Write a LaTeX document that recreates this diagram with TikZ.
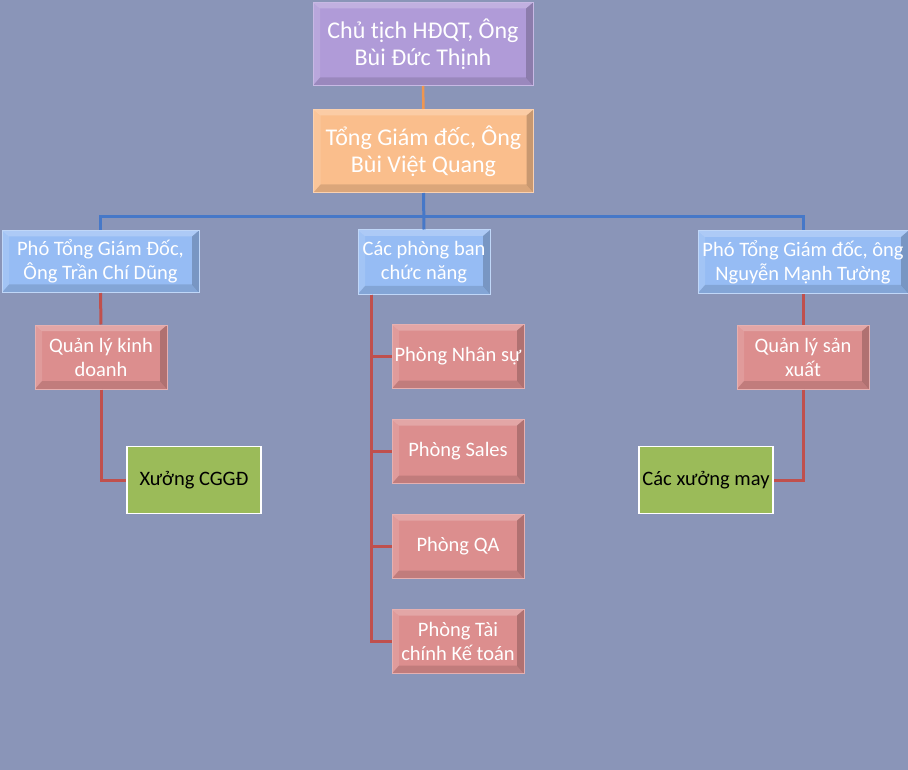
\documentclass[tikz,border=0pt]{standalone}
\usepackage{fontspec}
\setmainfont{Carlito}
\definecolor{bg}{RGB}{138,149,184}
\definecolor{purplebox}{RGB}{176,155,216}
\definecolor{orangebox}{RGB}{250,190,140}
\definecolor{bluebox}{RGB}{150,188,244}
\definecolor{redbox}{RGB}{220,142,142}
\definecolor{greenbox}{RGB}{155,187,89}
\definecolor{redline}{RGB}{192,80,77}
\definecolor{blueline}{RGB}{70,120,200}
\definecolor{orangeline}{RGB}{240,150,80}
\tikzset{
  bevel/.style={path picture={
    \fill[white,opacity=.22] (path picture bounding box.north west) -- (path picture bounding box.north east)
      -- ([shift={(-7pt,-6pt)}]path picture bounding box.north east) -- ([shift={(7pt,-6pt)}]path picture bounding box.north west) -- cycle;
    \fill[white,opacity=.12] (path picture bounding box.north west) -- (path picture bounding box.south west)
      -- ([shift={(7pt,8pt)}]path picture bounding box.south west) -- ([shift={(7pt,-6pt)}]path picture bounding box.north west) -- cycle;
    \fill[black,opacity=.12] (path picture bounding box.south west) -- (path picture bounding box.south east)
      -- ([shift={(-7pt,8pt)}]path picture bounding box.south east) -- ([shift={(7pt,8pt)}]path picture bounding box.south west) -- cycle;
    \fill[black,opacity=.2] (path picture bounding box.north east) -- (path picture bounding box.south east)
      -- ([shift={(-7pt,8pt)}]path picture bounding box.south east) -- ([shift={(-7pt,-6pt)}]path picture bounding box.north east) -- cycle;
  }},
  box/.style={rectangle, bevel, inner sep=0pt, align=center, text=white, font=\fontsize{20.5}{24}\selectfont, line width=1pt},
  topbox/.style={box, font=\fontsize{24}{27}\selectfont, minimum width=220pt, minimum height=83pt},
  purplenode/.style={topbox, fill=purplebox, draw=purplebox!70!white},
  orangenode/.style={topbox, fill=orangebox, draw=orangebox!70!white},
  bluenode/.style={box, fill=bluebox, draw=bluebox!60!white, minimum height=62pt},
  rednode/.style={box, fill=redbox, draw=redbox!70!white, minimum width=132pt, minimum height=64pt},
  greennode/.style={rectangle, inner sep=0pt, align=center, fill=greenbox, draw=white, line width=1.2pt,
    minimum width=134pt, minimum height=67pt, font=\fontsize{20.5}{24}\selectfont, text=black},
  redconn/.style={draw=redline, line width=3pt},
  blueconn/.style={draw=blueline, line width=3pt},
  orangeconn/.style={draw=orangeline, line width=2.5pt},
}
\begin{document}
\begin{tikzpicture}[x=1pt,y=-1pt]
\fill[bg] (0,0) rectangle (908,770);
\useasboundingbox (0,0) rectangle (908,770);

\node[purplenode] (chu) at (423,44) {Chủ tịch HĐQT, Ông\\Bùi Đức Thịnh};
\node[orangenode] (tgd) at (423.5,151) {Tổng Giám đốc, Ông\\Bùi Việt Quang};
\node[bluenode, minimum width=197pt] (pl) at (100.5,261.5) {Phó Tổng Giám Đốc,\\Ông Trần Chí Dũng};
\node[bluenode, minimum width=132pt, minimum height=64pt] (cpb) at (424,262) {Các phòng ban\\chức năng};
\node[bluenode, minimum width=210pt] (pr) at (803,262) {Phó Tổng Giám đốc, ông\\Nguyễn Mạnh Tường};
\node[rednode] (qlkd) at (101,357) {Quản lý kinh\\doanh};
\node[greennode] (xcggd) at (194,480) {Xưởng CGGĐ};
\node[rednode] (qlsx) at (803,357) {Quản lý sản\\xuất};
\node[greennode] (cxm) at (706,480) {Các xưởng may};
\node[rednode] (pns) at (458,356.5) {Phòng Nhân sự};
\node[rednode] (psl) at (458,451.5) {Phòng Sales};
\node[rednode] (pqa) at (458,546.5) {Phòng QA};
\node[rednode] (ptc) at (458,641.5) {Phòng Tài\\chính Kế toán};

\draw[orangeconn] (chu.south) -- (tgd.north);
\coordinate (bus) at ([yshift=-24pt]tgd.south);
\draw[blueconn] (tgd.south) -- (cpb.north);
\draw[blueconn] (bus) -| (pl.north);
\draw[blueconn] (bus) -| (pr.north);
\draw[redconn] (pl.south) -- (qlkd.north);
\draw[redconn] (qlkd.south) |- (xcggd.west);
\draw[redconn] (pr.south) -- (qlsx.north);
\draw[redconn] (qlsx.south) |- (cxm.east);
\coordinate (mtop) at ([xshift=14pt]cpb.south west);
\draw[redconn] (mtop) |- (pns.west);
\draw[redconn] (mtop) |- (psl.west);
\draw[redconn] (mtop) |- (pqa.west);
\draw[redconn] (mtop) |- (ptc.west);
\end{tikzpicture}
\end{document}
